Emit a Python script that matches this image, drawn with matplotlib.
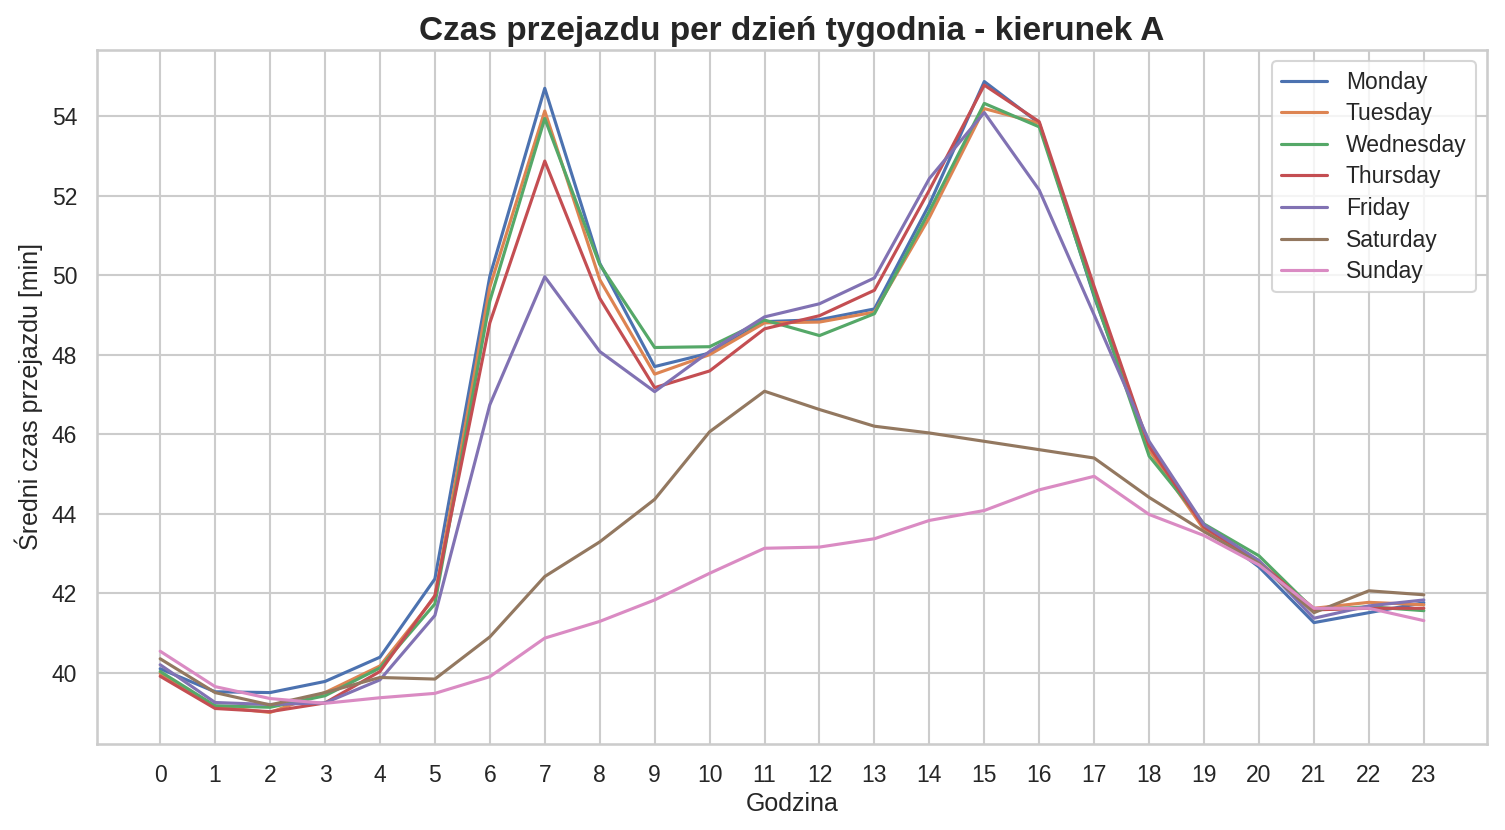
import matplotlib
matplotlib.use("Agg")
import matplotlib.pyplot as plt
import seaborn as sns

hours = list(range(24))
days = ["Monday", "Tuesday", "Wednesday", "Thursday", "Friday", "Saturday", "Sunday"]

monday = [40.10, 39.52, 39.50, 39.78, 40.39, 42.36, 49.97, 54.70, 50.30, 47.70, 48.04, 48.83,
          48.88, 49.15, 51.78, 54.87, 53.82, 49.46, 45.65, 43.70, 42.66, 41.26, 41.51, 41.76]
tuesday = [39.98, 39.15, 39.00, 39.50, 40.17, 41.90, 49.70, 54.13, 49.89, 47.51, 48.00, 48.80,
           48.82, 49.07, 51.45, 54.19, 53.82, 49.55, 45.60, 43.60, 42.75, 41.62, 41.77, 41.71]
wednesday = [40.03, 39.17, 39.13, 39.42, 40.12, 41.73, 49.35, 53.94, 50.27, 48.18, 48.20, 48.87,
             48.48, 49.03, 51.61, 54.32, 53.73, 49.50, 45.45, 43.74, 42.94, 41.58, 41.66, 41.56]
thursday = [39.91, 39.10, 39.02, 39.24, 40.03, 41.94, 48.80, 52.87, 49.42, 47.17, 47.59, 48.65,
            48.98, 49.62, 52.14, 54.78, 53.86, 49.71, 45.70, 43.66, 42.80, 41.58, 41.62, 41.62]
friday = [40.20, 39.25, 39.20, 39.24, 39.82, 41.44, 46.74, 49.96, 48.08, 47.07, 48.08, 48.95,
          49.28, 49.93, 52.43, 54.09, 52.14, 49.00, 45.82, 43.72, 42.82, 41.37, 41.68, 41.83]
saturday = [40.35, 39.50, 39.19, 39.50, 39.88, 39.84, 40.90, 42.42, 43.29, 44.36, 46.06, 47.08,
            46.62, 46.20, 46.03, 45.82, 45.61, 45.40, 44.41, 43.55, 42.75, 41.51, 42.06, 41.96]
sunday = [40.54, 39.65, 39.35, 39.23, 39.37, 39.48, 39.90, 40.87, 41.29, 41.83, 42.50, 43.13,
          43.16, 43.37, 43.83, 44.08, 44.60, 44.94, 43.98, 43.45, 42.71, 41.62, 41.62, 41.31]

series = [monday, tuesday, wednesday, thursday, friday, saturday, sunday]

sns.set_theme(style="whitegrid")
plt.rcParams['font.family'] = ['Liberation Sans', 'DejaVu Sans']

fig = plt.figure(figsize=(1505 / 150, 830 / 150), dpi=150)
ax = fig.add_axes([97 / 1505, 1 - 744 / 830, (1487 - 97) / 1505, (744 - 50) / 830])

for name, vals in zip(days, series):
    ax.plot(hours, vals, label=name, linewidth=1.5)

ax.set_xticks(hours)
ax.set_xlabel("Godzina", labelpad=2.5)
ax.set_ylabel("Średni czas przejazdu [min]")
ax.set_title("Czas przejazdu per dzień tygodnia - kierunek A", fontsize=16, fontweight="bold", pad=5)
ax.legend(loc="upper right", labelspacing=0.375)

fig.savefig("out.png", dpi=150)
